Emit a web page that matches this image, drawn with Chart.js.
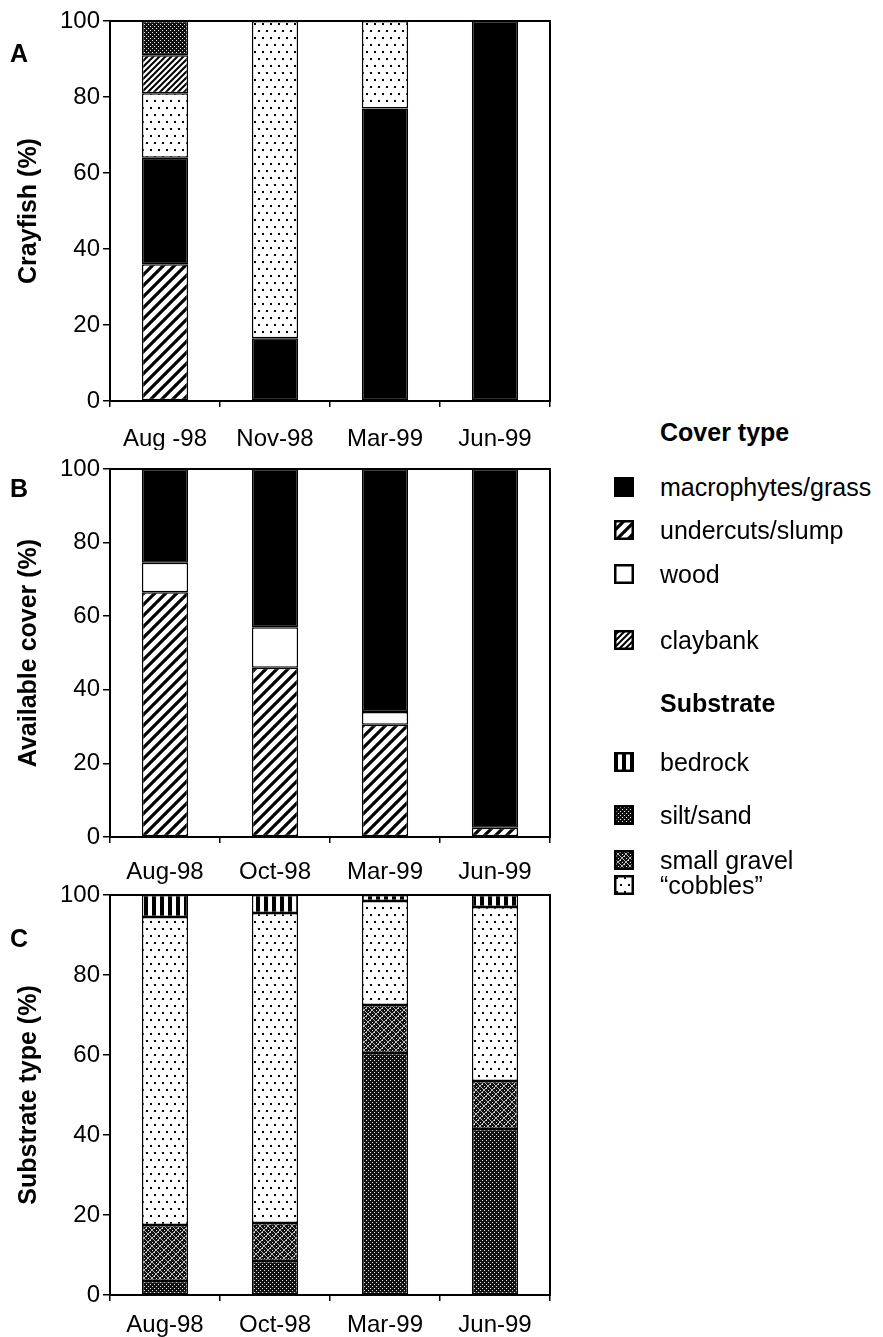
<!DOCTYPE html>
<html>
<head>
<meta charset="utf-8">
<script src="https://cdn.jsdelivr.net/npm/chart.js@4.4.0/dist/chart.umd.min.js"></script>
<style>
  html, body { margin: 0; padding: 0; background: #fff; }
  body { width: 883px; height: 1337px; position: relative; overflow: hidden;
         font-family: "Liberation Sans", Arial, Helvetica, sans-serif; color: #000; }
  canvas.panel { position: absolute; left: 0; }
  .lg-row { position: absolute; left: 614px; height: 28px; display: flex; align-items: center;
            font-size: 25px; white-space: nowrap; }
  .lg-row canvas { margin-right: 26px; }
  .lg-head { position: absolute; left: 660px; height: 28px; line-height: 28px;
             font-size: 25px; font-weight: bold; white-space: nowrap; }
</style>
</head>
<body>
<canvas id="panelA" class="panel" width="560" height="450" style="top:0px"></canvas>
<canvas id="panelB" class="panel" width="560" height="455" style="top:440px"></canvas>
<canvas id="panelC" class="panel" width="560" height="467" style="top:870px"></canvas>
<div id="legend"></div>
<script>
const crayfishDates = ['Aug -98', 'Nov-98', 'Mar-99', 'Jun-99'];
const habitatDates = ['Aug-98', 'Oct-98', 'Mar-99', 'Jun-99'];
const percentTicks = [0, 20, 40, 60, 80, 100];

// A: cover used by crayfish, stacked from the bottom up
const crayUndercuts = [36, 0, 0, 0];
const crayMacrophytes = [28, 16.5, 77, 100];
const crayCobbles = [17, 83.5, 23, 0];
const crayClaybank = [10, 0, 0, 0];
const craySiltSand = [9, 0, 0, 0];

// B: available cover
const coverUndercuts = [66.5, 46, 30.5, 2.5];
const coverWood = [8, 11, 3.5, 0];
const coverMacrophytes = [25.5, 43, 66, 97.5];

// C: substrate type
const subSiltSand = [3.5, 8.5, 60.5, 41.5];
const subSmallGravel = [14, 9.5, 12, 12];
const subCobbles = [77, 77.5, 26, 43.5];
const subBedrock = [5.5, 4.5, 1.5, 3];

const coverNames = ['macrophytes/grass', 'undercuts/slump', 'wood', 'claybank'];
const substrateNames = ['bedrock', 'silt/sand', 'small gravel', '\u201Ccobbles\u201D'];

const FONT = '"Liberation Sans", Arial, Helvetica, sans-serif';
Chart.defaults.font.family = FONT;
Chart.defaults.color = '#000';

// fill patterns -------------------------------------------------------
function tile(w, h, paint) {
  const c = document.createElement('canvas');
  c.width = w; c.height = h;
  const g = c.getContext('2d');
  g.fillStyle = '#fff';
  g.fillRect(0, 0, w, h);
  paint(g, w, h);
  return g.createPattern(c, 'repeat');
}
function hatch(g, s, lw) {
  g.strokeStyle = '#000';
  g.lineWidth = lw;
  g.beginPath();
  for (let k = -1; k <= 1; k++) {
    g.moveTo(k * s - 1, s + 1);
    g.lineTo(k * s + s + 1, -1);
  }
  g.stroke();
}
function grain(g, w, h) {
  g.fillStyle = '#111';
  g.fillRect(0, 0, w, h);
  for (let y = 0; y < h; y += 2) {
    for (let x = (y / 2) % 2 === 0 ? 0 : 2; x < w; x += 4) {
      g.fillStyle = '#e6e6e6';
      g.fillRect(x, y, 1, 1);
    }
  }
}
const fills = {
  macrophytes: '#000',
  wood: '#fff',
  undercuts: tile(11, 11, (g, w) => hatch(g, w, 3.2)),
  claybank: tile(6, 6, (g, w) => hatch(g, w, 2)),
  cobbles: tile(16, 14, g => {
    g.fillStyle = '#000';
    [[3, 3], [11, 3], [7, 10], [15, 10]].forEach(([x, y]) => g.fillRect(x - 1, y - 1, 2, 2));
  }),
  siltSand: tile(4, 4, grain),
  smallGravel: tile(8, 8, (g, w, h) => {
    grain(g, w, h);
    g.strokeStyle = '#b8b8b8';
    g.lineWidth = 1;
    g.beginPath();
    for (let k = -1; k <= 1; k++) {
      g.moveTo(k * 8, 8); g.lineTo(k * 8 + 8, 0);
      g.moveTo(k * 8, 0); g.lineTo(k * 8 + 8, 8);
    }
    g.stroke();
  }),
  bedrock: tile(8, 2, g => { g.fillStyle = '#000'; g.fillRect(0, 0, 4, 2); })
};

// frame around the plot area and the panel letter
const panelFrame = {
  id: 'panelFrame',
  afterDatasetsDraw(chart, args, opts) {
    const { ctx, chartArea: a } = chart;
    ctx.save();
    ctx.strokeStyle = '#000';
    ctx.lineWidth = 2;
    ctx.strokeRect(a.left, a.top, a.right - a.left, a.bottom - a.top);
    ctx.font = 'bold 25px ' + FONT;
    ctx.fillStyle = '#000';
    ctx.textBaseline = 'middle';
    ctx.fillText(opts.letter, opts.x, opts.y);
    ctx.restore();
  }
};

function drawPanel(id, cfg) {
  return new Chart(document.getElementById(id), {
    type: 'bar',
    data: {
      labels: cfg.labels,
      datasets: cfg.series.map(([label, data, fill]) => ({
        label, data,
        backgroundColor: fill,
        borderColor: '#000',
        borderWidth: 1.5,
        borderSkipped: false,
        barPercentage: 0.42,
        categoryPercentage: 1
      }))
    },
    options: {
      responsive: false,
      animation: false,
      devicePixelRatio: 1,
      layout: { padding: { top: cfg.top, right: 10, left: 0, bottom: 0 } },
      plugins: {
        legend: { display: false },
        tooltip: { enabled: false },
        panelFrame: { letter: cfg.letter, x: 10, y: cfg.letterY }
      },
      scales: {
        x: {
          stacked: true,
          grid: { offset: true, drawOnChartArea: false, drawTicks: true, tickLength: 6, color: '#000', lineWidth: 1.5 },
          border: { display: true, color: '#000', width: 2 },
          ticks: { color: '#000', font: { size: 24 }, padding: cfg.labelGap, maxRotation: 0, autoSkip: false },
          afterFit: s => { s.height = cfg.axisH; }
        },
        y: {
          stacked: true,
          min: 0,
          max: 100,
          afterBuildTicks: s => { s.ticks = percentTicks.map(v => ({ value: v })); },
          grid: { drawOnChartArea: false, drawTicks: true, tickLength: 7, color: '#000', lineWidth: 1.5 },
          border: { display: true, color: '#000', width: 2 },
          ticks: { color: '#000', font: { size: 24 }, padding: 3 },
          title: { display: true, text: cfg.yTitle, color: '#000', font: { size: 25, weight: 'bold' }, padding: { top: 14, bottom: 0 } },
          afterFit: s => { s.width = 110; }
        }
      }
    },
    plugins: [panelFrame]
  });
}

drawPanel('panelA', {
  labels: crayfishDates, yTitle: 'Crayfish (%)', letter: 'A', letterY: 55,
  top: 21, axisH: 49, labelGap: 18,
  series: [
    ['undercuts/slump', crayUndercuts, fills.undercuts],
    ['macrophytes/grass', crayMacrophytes, fills.macrophytes],
    ['cobbles', crayCobbles, fills.cobbles],
    ['claybank', crayClaybank, fills.claybank],
    ['silt/sand', craySiltSand, fills.siltSand]
  ]
});

drawPanel('panelB', {
  labels: habitatDates, yTitle: 'Available cover (%)', letter: 'B', letterY: 50,
  top: 29, axisH: 455 - 397, labelGap: 15,
  series: [
    ['undercuts/slump', coverUndercuts, fills.undercuts],
    ['wood', coverWood, fills.wood],
    ['macrophytes/grass', coverMacrophytes, fills.macrophytes]
  ]
});

drawPanel('panelC', {
  labels: habitatDates, yTitle: 'Substrate type (%)', letter: 'C', letterY: 70,
  top: 25, axisH: 42, labelGap: 10,
  series: [
    ['silt/sand', subSiltSand, fills.siltSand],
    ['small gravel', subSmallGravel, fills.smallGravel],
    ['cobbles', subCobbles, fills.cobbles],
    ['bedrock', subBedrock, fills.bedrock]
  ]
});

// legend
const legend = document.getElementById('legend');
function head(text, cy) {
  const d = document.createElement('div');
  d.className = 'lg-head';
  d.style.top = (cy - 14) + 'px';
  d.textContent = text;
  legend.appendChild(d);
}
function row(text, fill, cy) {
  const d = document.createElement('div');
  d.className = 'lg-row';
  d.style.top = (cy - 14) + 'px';
  const sw = document.createElement('canvas');
  sw.width = 20; sw.height = 20;
  const g = sw.getContext('2d');
  g.fillStyle = fill;
  g.fillRect(0, 0, 20, 20);
  g.strokeStyle = '#000';
  g.lineWidth = 2.5;
  g.strokeRect(1.25, 1.25, 17.5, 17.5);
  d.appendChild(sw);
  const t = document.createElement('span');
  t.textContent = text;
  d.appendChild(t);
  legend.appendChild(d);
}
head('Cover type', 432);
[fills.macrophytes, fills.undercuts, fills.wood, fills.claybank]
  .forEach((f, i) => row(coverNames[i], f, [487, 530, 574, 640][i]));
head('Substrate', 703);
[fills.bedrock, fills.siltSand, fills.smallGravel, fills.cobbles]
  .forEach((f, i) => row(substrateNames[i], f, [762, 815, 860, 885][i]));
</script>
</body>
</html>
